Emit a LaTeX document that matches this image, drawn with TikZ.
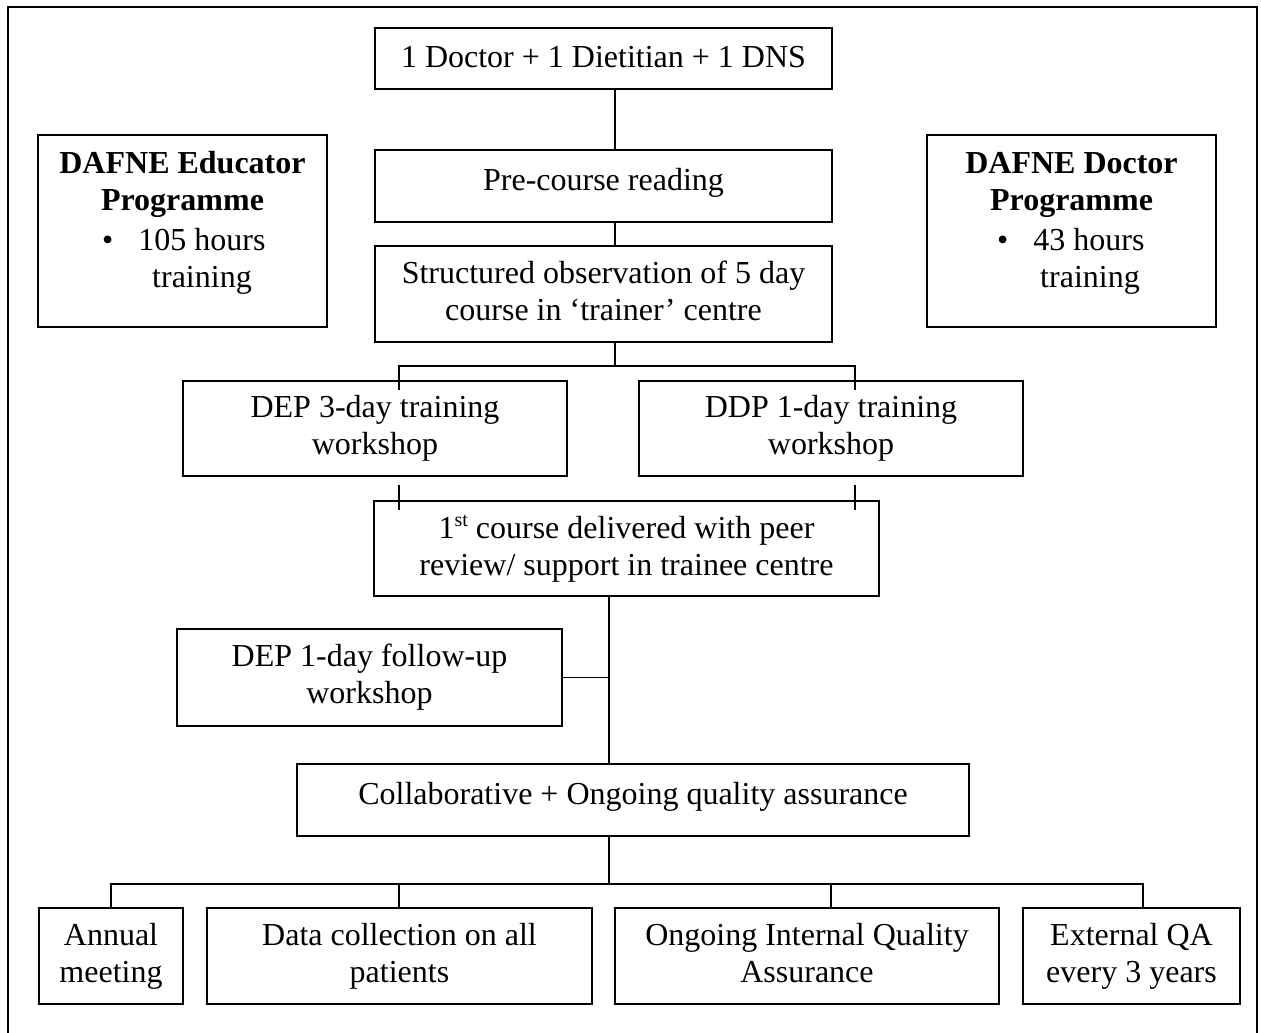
\documentclass[tikz,border=0pt]{standalone}
\usepackage{fontspec}
\setmainfont{Liberation Serif}
\begin{document}
\begin{tikzpicture}[x=1pt,y=-1pt,
  box/.style={draw, line width=1.6pt, inner sep=0pt, align=center, font=\fontsize{32}{37}\selectfont},
  one/.style={box, execute at begin node={\rule{0pt}{22pt}}, execute at end node={\rule[-14pt]{0pt}{14pt}}},
  first/.style={box, execute at begin node={\rule{0pt}{26pt}}, execute at end node={\rule[-9pt]{0pt}{9pt}}},
  two/.style={box, execute at begin node={\rule{0pt}{28pt}}, execute at end node={\rule[-7pt]{0pt}{7pt}}},
  ebox/.style={draw, line width=1.6pt, inner sep=0pt},
  lbl/.style={inner sep=0pt, anchor=base, font=\fontsize{32}{37}\selectfont},
  conn/.style={line width=1.4pt}]
\useasboundingbox (0,0) rectangle (1261,1033);
% outer frame
\draw[line width=1.8pt] (8,1033) -- (8,7) -- (1257,7) -- (1257,1033);

% main column
\node[first, minimum width=457, minimum height=61] (top) at (603.5,58.5) {1 Doctor + 1 Dietitian + 1 DNS};
\node[one, minimum width=457, minimum height=72] (pre) at (603.5,186) {Pre-course reading};
\node[two, minimum width=457, minimum height=96] (obs) at (603.5,294) {Structured observation of 5 day\\course in ‘trainer’ centre};

% side programmes
\node[ebox, minimum width=289, minimum height=192] (edu) at (182.5,231) {};
\node[lbl] (eduh1) at (182.5,173) {\bfseries DAFNE Educator};
\node[lbl] (eduh2) at (182.5,210) {\bfseries Programme};
\node[lbl, anchor=base west] (edub) at (102,250) {•};
\node[lbl] (edul1) at (202,250) {105 hours};
\node[lbl] (edul2) at (202,287) {training};

\node[ebox, minimum width=289, minimum height=192] (doc) at (1071.5,231) {};
\node[lbl] (doch1) at (1071.5,173) {\bfseries DAFNE Doctor};
\node[lbl] (doch2) at (1071.5,210) {\bfseries Programme};
\node[lbl, anchor=base west] (docb) at (997,250) {•};
\node[lbl] (docl1) at (1089,250) {43 hours};
\node[lbl] (docl2) at (1090,287) {training};

% workshops
\node[two, minimum width=384, minimum height=95] (dep) at (375,428.5) {DEP 3-day training\\workshop};
\node[two, minimum width=384, minimum height=95] (ddp) at (831,428.5) {DDP 1-day training\\workshop};
\node[two, minimum width=505, minimum height=95] (firstc) at (626.5,548.5) {1{\fontsize{20}{20}\selectfont\raisebox{12pt}{st}} course delivered with peer\\review/ support in trainee centre};
\node[two, minimum width=385, minimum height=97] (fup) at (369.5,677.5) {DEP 1-day follow-up\\workshop};
\node[one, minimum width=672, minimum height=72] (collab) at (633,800) {Collaborative + Ongoing quality assurance};

% bottom row
\node[two, minimum width=144, minimum height=96] (annual) at (111,956) {Annual\\meeting};
\node[two, minimum width=385, minimum height=96] (data) at (399.5,956) {Data collection on all\\patients};
\node[two, minimum width=384, minimum height=96] (ongoing) at (807,956) {Ongoing Internal Quality\\Assurance};
\node[two, minimum width=217, minimum height=96] (external) at (1131.5,956) {External QA\\every 3 years};

% connector coordinates
\coordinate (sp) at (615,0);
\coordinate (j1) at (615,366);
\coordinate (bl) at (399,390);
\coordinate (br) at (855,390);
\coordinate (sl1) at (399,485);
\coordinate (sl2) at (399,510);
\coordinate (sr1) at (855,485);
\coordinate (sr2) at (855,510);
\coordinate (sp2) at (609,0);
\coordinate (j2) at (609,884);
\coordinate (dt) at (399,0);
\coordinate (og) at (831,0);
\coordinate (ex) at (1143,0);

% connectors
\draw[conn] (top.south -| sp) -- (pre.north -| sp);
\draw[conn] (pre.south -| sp) -- (obs.north -| sp);
\draw[conn] (obs.south -| j1) -- (j1);
\draw[conn] (bl) |- (j1) -| (br);
\draw[conn] (sl1) -- (sl2);
\draw[conn] (sr1) -- (sr2);
\draw[conn] (firstc.south -| sp2) -- (collab.north -| sp2);
\draw[conn] (fup.east) -- (fup.east -| sp2);
\draw[conn] (collab.south -| j2) -- (j2);
\draw[conn] (annual.north) |- (j2);
\draw[conn] (external.north -| ex) |- (j2);
\draw[conn] (data.north -| dt) -- (dt |- j2);
\draw[conn] (ongoing.north -| og) -- (og |- j2);
\end{tikzpicture}
\end{document}
